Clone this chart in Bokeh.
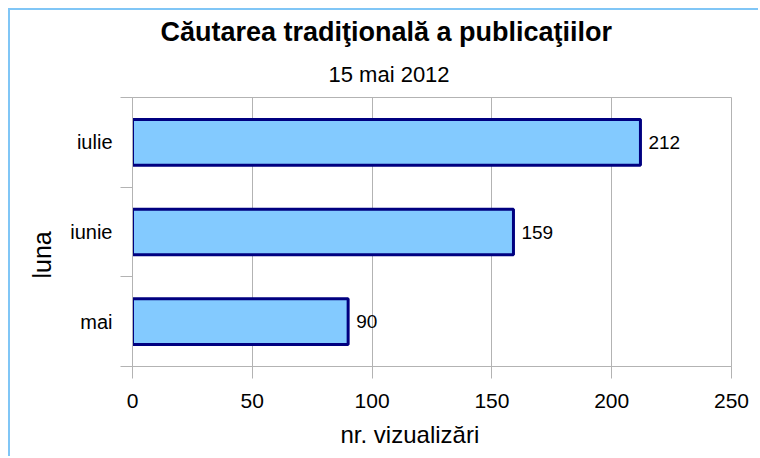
from bokeh.plotting import figure
from bokeh.models import Range1d, FixedTicker, Title, ColumnDataSource
from bokeh.embed import file_html
from bokeh.resources import INLINE
from bokeh.core.properties import value

title_text = "Căutarea tradiţională a publicaţiilor"
subtitle_text = "15 mai 2012"
x_label = "nr. vizualizări"
y_label = "luna"
categories = ["mai", "iunie", "iulie"]
views = [90, 159, 212]
x_ticks = [0, 50, 100, 150, 200, 250]

FONT = "Liberation Sans"
GRID = "#b3b3b3"

pos = [i + 0.5 for i in range(len(categories))]
src = ColumnDataSource(dict(y=pos, v=views, lab=[str(v) for v in views]))

p = figure(width=750, height=448, output_backend="svg", toolbar_location=None,
           x_range=Range1d(0, 250), y_range=Range1d(0, len(categories)),
           min_border_left=122, min_border_right=29, min_border_top=87, min_border_bottom=92)
p.styles = {"margin-left": "8px", "margin-top": "8px",
            "border-left": "2px solid #80c6f6", "border-top": "2px solid #80c6f6"}
p.background_fill_color = "white"
p.border_fill_color = "white"
p.outline_line_color = GRID
p.outline_line_width = 1

p.hbar(y="y", left=0, right="v", height=0.51, source=src,
       fill_color="#83caff", line_color="#000080", line_width=3)
p.text(x="v", y="y", text="lab", source=src, x_offset=8, text_baseline="middle",
       text_align="left", text_font=value(FONT), text_font_size="19px", text_color="black")

# x axis
p.xaxis.ticker = FixedTicker(ticks=x_ticks)
p.xaxis.axis_line_color = GRID
p.xaxis.major_tick_line_color = GRID
p.xaxis.major_tick_out = 12
p.xaxis.major_tick_in = 0
p.xaxis.minor_tick_line_color = None
p.xaxis.major_label_text_font = FONT
p.xaxis.major_label_text_font_size = "21px"
p.xaxis.major_label_text_color = "black"
p.xaxis.major_label_standoff = 15

# y axis
p.yaxis.ticker = FixedTicker(ticks=pos, minor_ticks=list(range(len(categories) + 1)))
p.yaxis.major_label_overrides = {pp: c for pp, c in zip(pos, categories)}
p.yaxis.axis_line_color = GRID
p.yaxis.major_tick_line_color = None
p.yaxis.major_tick_out = 0
p.yaxis.major_tick_in = 0
p.yaxis.minor_tick_line_color = GRID
p.yaxis.minor_tick_out = 12
p.yaxis.minor_tick_in = 0
p.yaxis.major_label_text_font = FONT
p.yaxis.major_label_text_font_size = "20px"
p.yaxis.major_label_text_color = "black"
p.yaxis.major_label_standoff = 8

p.xgrid.grid_line_color = GRID
p.ygrid.grid_line_color = None

p.add_layout(Title(text=subtitle_text, align="left", offset=196, text_font=FONT,
                   text_font_size="22px", text_font_style="normal", text_color="black",
                   standoff=21), "above")
p.add_layout(Title(text=title_text, align="left", offset=28, text_font=FONT,
                   text_font_size="27px", text_font_style="bold", text_color="black",
                   standoff=5), "above")
p.add_layout(Title(text=x_label, align="left", offset=208, text_font=FONT,
                   text_font_size="24px", text_font_style="normal", text_color="black",
                   standoff=17), "below")
p.add_layout(Title(text=y_label, align="left", offset=88, text_font=FONT,
                   text_font_size="25px", text_font_style="normal", text_color="black",
                   standoff=24), "left")

open("out.html", "w").write(file_html(p, INLINE))
